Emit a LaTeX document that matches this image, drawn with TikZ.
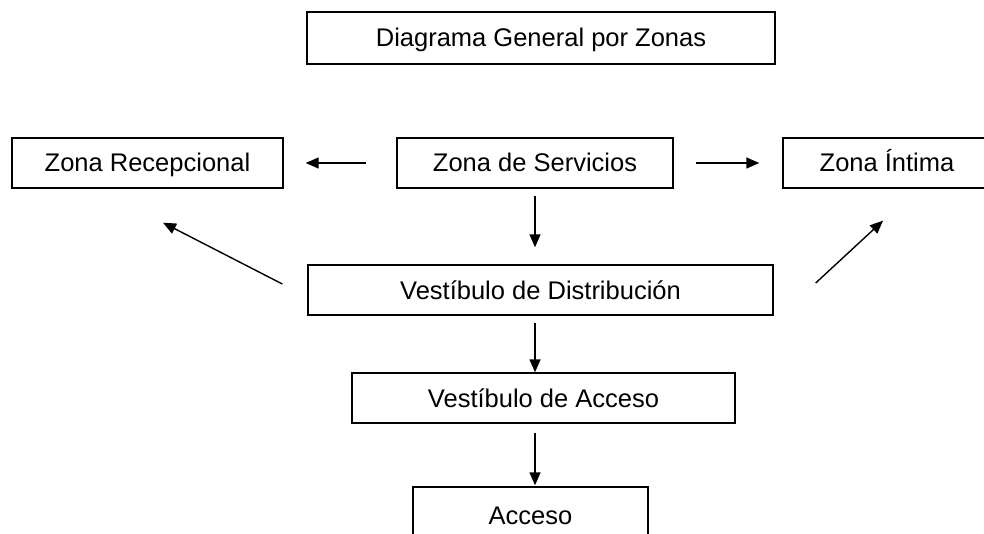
\documentclass[tikz,border=0pt]{standalone}
\usepackage{fontspec}
\setmainfont{Liberation Sans}
\usetikzlibrary{arrows.meta,
	calc}

\begin{document}
\begin{tikzpicture}[x=1pt,y=-1pt]
        \tikzstyle{zona}=[draw,line width=1.4pt,inner sep=0pt,minimum height=50pt,text height=18pt,text depth=0pt,font=\fontsize{25.5}{30}\selectfont]
        \tikzstyle{flecha}=[line width=1.4pt,-{Triangle[length=13pt,width=11pt]}]
        \useasboundingbox (0,0) rectangle (984,534);
        \node[zona,minimum width=468pt,minimum height=52pt] (titulo) at (541,38) {Diagrama General por Zonas};
        \node[zona,minimum width=271pt] (recep) at (147.5,163) {Zona Recepcional};
        \node[zona,minimum width=276pt] (serv) at (535,163) {Zona de Servicios};
        \node[zona,minimum width=208pt] (intima) at (887,163) {Zona Íntima};
        \node[zona,minimum width=465pt] (dist) at (540.5,290) {Vestíbulo de Distribución};
        \node[zona,minimum width=383pt] (vacc) at (543.5,398) {Vestíbulo de Acceso};
        \node[zona,minimum width=235pt,minimum height=56pt] (acceso) at (530.5,515) {Acceso};
        % flechas
        \draw[flecha,shorten <=30pt,shorten >=22pt] (serv.west) -- (recep.east);
        \draw[flecha,shorten <=22pt,shorten >=23pt] (serv.east) -- (intima.west);
        \draw[flecha,shorten <=7pt,shorten >=17pt] (serv.south) -- (serv.south |- dist.north);
        \draw[flecha,shorten <=7pt] (serv.south |- dist.south) -- (serv.south |- vacc.north);
        \draw[flecha,shorten <=9pt,shorten >=1pt] (serv.south |- vacc.south) -- (serv.south |- acceso.north);
        \draw[flecha] ($(dist.west)+(-25,-6)$) -- ($(recep.south)+(15.5,34)$);
        \draw[flecha] ($(dist.east)+(42,-7)$) -- ($(intima.south)+(-4,32)$);
      \end{tikzpicture}
\end{document}
